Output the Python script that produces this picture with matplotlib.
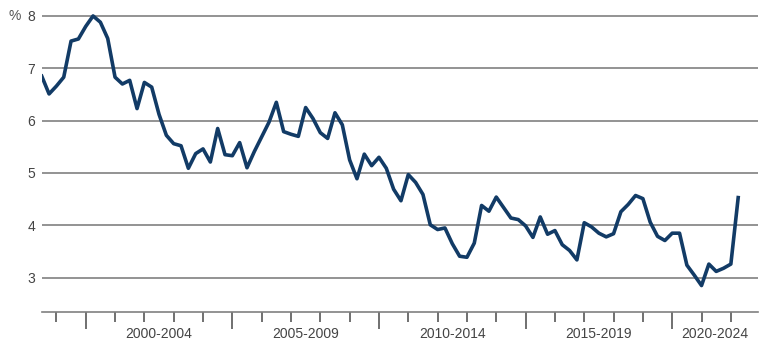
import matplotlib
matplotlib.use("Agg")
import matplotlib.pyplot as plt

plt.rcParams['font.family'] = ['Liberation Sans', 'DejaVu Sans']

# quarterly values, first point 1998 Q3
start_year = 1998.5
values = [6.85, 6.51, 6.66, 6.83, 7.52, 7.56, 7.80, 8.00, 7.88, 7.57,
          6.83, 6.70, 6.77, 6.23, 6.73, 6.64, 6.12, 5.72, 5.56, 5.52,
          5.09, 5.37, 5.46, 5.21, 5.85, 5.35, 5.33, 5.58, 5.10, 5.41,
          5.69, 5.97, 6.35, 5.79, 5.74, 5.70, 6.25, 6.04, 5.77, 5.66,
          6.15, 5.92, 5.25, 4.89, 5.36, 5.14, 5.30, 5.09, 4.69, 4.47,
          4.97, 4.82, 4.59, 4.01, 3.92, 3.95, 3.65, 3.41, 3.39, 3.66,
          4.38, 4.27, 4.54, 4.34, 4.14, 4.11, 3.99, 3.77, 4.16, 3.83,
          3.90, 3.63, 3.52, 3.34, 4.05, 3.97, 3.85, 3.78, 3.84, 4.26,
          4.40, 4.57, 4.51, 4.06, 3.79, 3.71, 3.85, 3.85, 3.24, 3.05,
          2.85, 3.26, 3.12, 3.18, 3.26, 4.53]
dates = [start_year + 0.25 * i for i in range(len(values))]

group_starts = [2000, 2005, 2010, 2015, 2020]
group_labels = ['2000-2004', '2005-2009', '2010-2014', '2015-2019', '2020-2024']
y_ticks = [3, 4, 5, 6, 7, 8]

x_end = 2022.92

fig = plt.figure(figsize=(7.7, 3.5), dpi=100)
ax = fig.add_axes([0.0542, 0.1094, 0.930, 0.860])

ax.plot(dates, values, color='#123b66', lw=2.6, solid_joinstyle='round', zorder=3)

ax.set_xlim(start_year, x_end)
ax.set_ylim(2.35, 8.1)

# gridlines
ax.set_yticks(y_ticks)
ax.yaxis.grid(True, color='#808080', lw=1.2)
ax.set_axisbelow(True)
ax.tick_params(axis='y', length=0, pad=4.5, labelsize=10, labelcolor='#444444')

for s in ['left', 'right', 'top']:
    ax.spines[s].set_visible(False)
ax.spines['bottom'].set_color('#808080')
ax.spines['bottom'].set_linewidth(1.2)

# year ticks: long at group boundaries, short for each year
ax.set_xticks(group_starts)
ax.set_xticks([y for y in range(1999, 2023) if y not in group_starts], minor=True)
ax.tick_params(axis='x', which='major', length=12, width=1.4, color='#707070', labelbottom=False)
ax.tick_params(axis='x', which='minor', length=7, width=1.4, color='#707070')

for g, lab in zip(group_starts, group_labels):
    center = (g + min(g + 5, x_end)) / 2
    ax.text(center, -0.074, lab, transform=ax.get_xaxis_transform(),
            ha='center', va='center', fontsize=10, color='#444444')

fig.text(15 / 770, 1 - 15.5 / 350, '%', ha='center', va='center', fontsize=10, color='#555555')

fig.savefig('out.png', dpi=100)
